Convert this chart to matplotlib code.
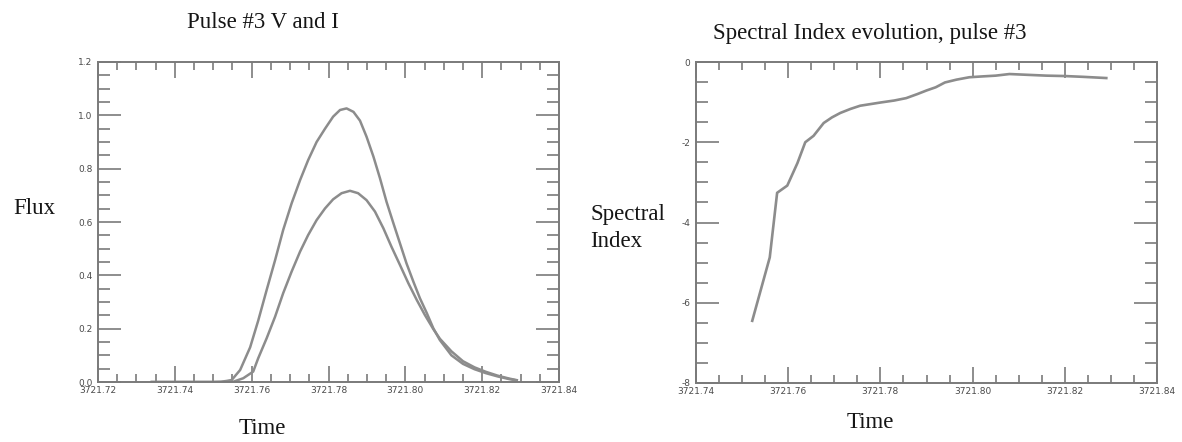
import matplotlib
matplotlib.use("Agg")
import matplotlib.pyplot as plt
from matplotlib.ticker import MultipleLocator, FormatStrFormatter

T0 = 3721.0

# Pulse #3 light curves, V band (time offset from 3721, flux)
v_time = [0.734, 0.750, 0.752, 0.7535, 0.7548, 0.7570, 0.7596, 0.7617, 0.7639,
          0.7661, 0.7682, 0.7704, 0.7726, 0.7747, 0.7769, 0.7791, 0.7812, 0.7830,
          0.7847, 0.7865, 0.7882, 0.7899, 0.7917, 0.7934, 0.7951, 0.7969, 0.7986,
          0.8003, 0.8021, 0.8038, 0.8056, 0.8073, 0.8090, 0.812, 0.815, 0.818,
          0.821, 0.824, 0.827, 0.829]
v_flux = [0.0, 0.0, 0.001, 0.004, 0.0075, 0.045, 0.13, 0.23, 0.345,
          0.457, 0.57, 0.67, 0.757, 0.832, 0.90, 0.95, 0.995, 1.02,
          1.026, 1.013, 0.98, 0.92, 0.845, 0.764, 0.676, 0.595, 0.52,
          0.445, 0.376, 0.314, 0.258, 0.201, 0.157, 0.10, 0.068, 0.048,
          0.033, 0.021, 0.011, 0.006]

# I band
i_time = [0.734, 0.752, 0.7552, 0.7578, 0.7604, 0.7617, 0.7639, 0.7661, 0.7682,
          0.7704, 0.7726, 0.7747, 0.7769, 0.7791, 0.7812, 0.7834, 0.7856, 0.7877,
          0.7899, 0.7921, 0.7943, 0.7964, 0.7986, 0.8008, 0.8030, 0.8051, 0.8073,
          0.8090, 0.812, 0.815, 0.818, 0.821, 0.824, 0.827, 0.829]
i_flux = [0.0, 0.0, 0.001, 0.014, 0.039, 0.089, 0.164, 0.245, 0.333,
          0.414, 0.489, 0.551, 0.607, 0.651, 0.685, 0.708, 0.717, 0.708,
          0.682, 0.639, 0.576, 0.507, 0.439, 0.370, 0.307, 0.251, 0.198,
          0.162, 0.115, 0.078, 0.055, 0.038, 0.024, 0.013, 0.007]

# spectral index evolution
s_time = [0.7522, 0.756, 0.7576, 0.7598, 0.762, 0.7637, 0.7655, 0.7677, 0.7695,
          0.7713, 0.7735, 0.7756, 0.780, 0.7830, 0.7856, 0.788, 0.790, 0.792,
          0.794, 0.7965, 0.7993, 0.802, 0.805, 0.808, 0.812, 0.816, 0.820,
          0.824, 0.829]
s_index = [-6.45, -4.87, -3.26, -3.08, -2.52, -2.0, -1.84, -1.52, -1.38,
           -1.27, -1.17, -1.09, -1.01, -0.96, -0.90, -0.80, -0.71, -0.63,
           -0.51, -0.44, -0.38, -0.36, -0.34, -0.30, -0.32, -0.34, -0.35,
           -0.37, -0.40]

line_col = "#8c8c8c"
axis_col = "#7a7a7a"
tick_col = "#4a4a4a"
text_col = "#151515"
serif = ["Liberation Serif", "DejaVu Serif"]

fig = plt.figure(figsize=(11.82, 4.42), dpi=100)
W, H = 1182, 442


def style_axes(ax):
    for sp in ax.spines.values():
        sp.set_color(axis_col)
        sp.set_linewidth(1.4)
    ax.tick_params(which="both", direction="in", top=True, right=True,
                   colors=axis_col, labelcolor=tick_col, labelsize=6.5, width=1.2)
    # IDL-like tick lengths: long on y, shorter on x
    ax.tick_params(axis="x", which="major", length=11.5, pad=3)
    ax.tick_params(axis="x", which="minor", length=5.8)
    ax.tick_params(axis="y", which="major", length=16.5, pad=4)
    ax.tick_params(axis="y", which="minor", length=8.3)


# left panel
ax1 = fig.add_axes([98 / W, 1 - 382 / H, (559 - 98) / W, (382 - 62) / H])
ax1.plot([T0 + t for t in v_time], v_flux, color=line_col, lw=1.8)
ax1.plot([T0 + t for t in i_time], i_flux, color=line_col, lw=1.8)
ax1.set_xlim(3721.72, 3721.84)
ax1.set_ylim(0, 1.2)
ax1.xaxis.set_major_locator(MultipleLocator(0.02))
ax1.xaxis.set_minor_locator(MultipleLocator(0.005))
ax1.yaxis.set_major_locator(MultipleLocator(0.2))
ax1.yaxis.set_minor_locator(MultipleLocator(0.05))
ax1.xaxis.set_major_formatter(FormatStrFormatter("%.2f"))
ax1.yaxis.set_major_formatter(FormatStrFormatter("%.1f"))
style_axes(ax1)

# right panel
ax2 = fig.add_axes([696 / W, 1 - 383 / H, (1157 - 696) / W, (383 - 62) / H])
ax2.plot([T0 + t for t in s_time], s_index, color=line_col, lw=1.9)
ax2.set_xlim(3721.74, 3721.84)
ax2.set_ylim(-8, 0)
ax2.xaxis.set_major_locator(MultipleLocator(0.02))
ax2.xaxis.set_minor_locator(MultipleLocator(0.005))
ax2.yaxis.set_major_locator(MultipleLocator(2))
ax2.yaxis.set_minor_locator(MultipleLocator(0.5))
ax2.xaxis.set_major_formatter(FormatStrFormatter("%.2f"))
ax2.yaxis.set_major_formatter(FormatStrFormatter("%d"))
style_axes(ax2)

# titles and labels (placed like the original figure)
fs = 16.5
fig.text(263 / W, 1 - 23 / H, "Pulse #3 V and I", family=serif, fontsize=fs,
         ha="center", va="center", color=text_col)
fig.text(13 / W, 1 - 209 / H, "Flux", family=serif, fontsize=fs,
         ha="left", va="center", color=text_col)
fig.text(262 / W, 1 - 428 / H, "Time", family=serif, fontsize=fs,
         ha="center", va="center", color=text_col)

fig.text(870 / W, 1 - 33 / H, "Spectral Index evolution, pulse #3", family=serif,
         fontsize=fs, ha="center", va="center", color=text_col)
fig.text(590 / W, 1 - 228 / H, "Spectral\nIndex", family=serif, fontsize=fs,
         ha="left", va="center", color=text_col, linespacing=1.35)
fig.text(870 / W, 1 - 423 / H, "Time", family=serif, fontsize=fs,
         ha="center", va="center", color=text_col)

fig.savefig("out.png", dpi=100, facecolor="white")
